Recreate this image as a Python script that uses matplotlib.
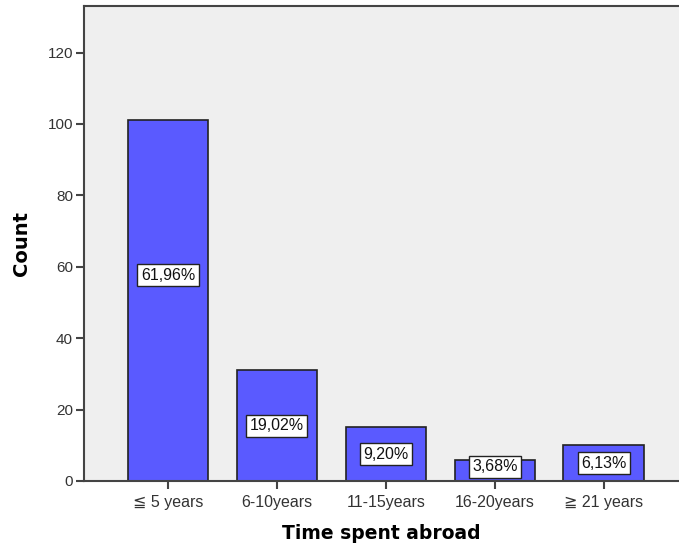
import matplotlib
matplotlib.use('Agg')
from matplotlib import pyplot as plt

categories = ['\u2266 5 years', '6-10years', '11-15years', '16-20years', '\u2267 21 years']
counts = [101, 31, 15, 6, 10]
percent_labels = ['61,96%', '19,02%', '9,20%', '3,68%', '6,13%']

plt.rcParams['font.family'] = ['Liberation Sans', 'DejaVu Sans']

fig = plt.figure(figsize=(6.79, 5.47), dpi=100)
ax = fig.add_axes([0.1237, 0.1207, 0.8763, 0.868])
ax.set_facecolor('#efefef')

x = list(range(len(categories)))
ax.bar(x, counts, width=0.74, color='#5a5aff', edgecolor='#222222', linewidth=1.2, zorder=2)

for i, (c, lab) in enumerate(zip(counts, percent_labels)):
    ly = max(c / 2, 4)
    if i == 0:
        ly = c * 0.57
    ax.text(i, ly, lab, ha='center', va='center', fontsize=11.5, color='#111111', zorder=3,
            bbox=dict(boxstyle='square,pad=0.22', facecolor='white', edgecolor='#222222', linewidth=1))

ax.set_xlim(-0.77, 4.69)
ax.set_ylim(0, 133)
ax.set_xticks(x)
ax.set_xticklabels(categories, fontsize=11.5, color='#333333')
ax.set_yticks(range(0, 121, 20))
ax.tick_params(axis='y', labelsize=11, labelcolor='#333333', length=6, width=1.5, color='#444444', pad=2)
ax.tick_params(axis='x', length=6, width=1.5, color='#444444', pad=4)

for s in ['left', 'bottom', 'top']:
    ax.spines[s].set_color('#444444')
    ax.spines[s].set_linewidth(1.5)
ax.spines['right'].set_visible(False)

ax.set_ylabel('Count', fontsize=14, fontweight='bold', family='DejaVu Sans', labelpad=12)
ax.set_xlabel('Time spent abroad', fontsize=13.5, fontweight='bold', family='DejaVu Sans', labelpad=10)

fig.savefig('out.png', dpi=100)
